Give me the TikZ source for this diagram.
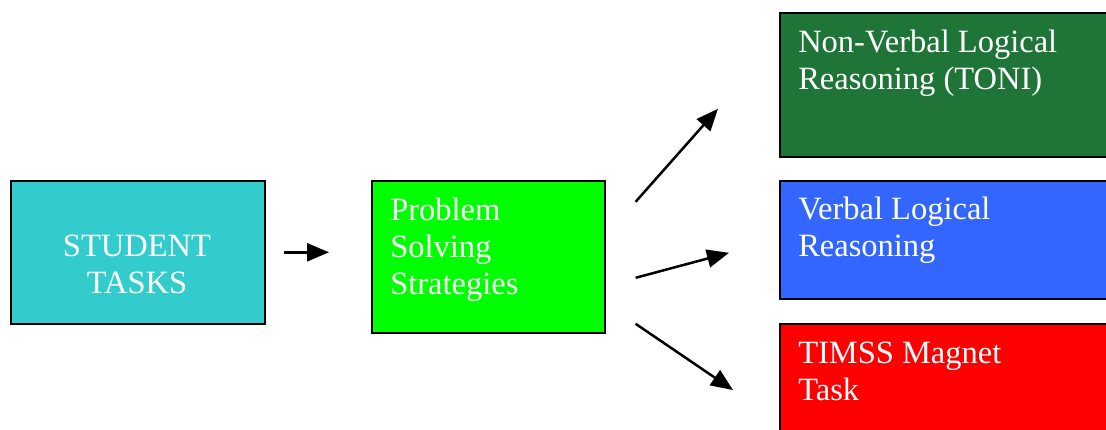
\documentclass[tikz,border=0pt]{standalone}
\usepackage{fontspec}
\setmainfont{Liberation Serif}
\usetikzlibrary{arrows.meta,positioning}

\definecolor{taskcyan}{HTML}{33CCCC}
\definecolor{stratgreen}{HTML}{00FF00}
\definecolor{tonigreen}{HTML}{1E7537}
\definecolor{verbalblue}{HTML}{3366FF}
\definecolor{timssred}{HTML}{FF0000}

\begin{document}
\begin{tikzpicture}[x=1pt,y=-1pt,>={Triangle[length=22pt,width=18pt]},line width=2.5pt,
                box node/.style={draw,rectangle,line width=1.6pt,anchor=north west,inner sep=0pt},
                text node/.style={text=white,align=left,anchor=north west,inner sep=0pt,
                  font=\fontsize{32.5}{37}\selectfont}]
                \useasboundingbox (0,0) rectangle (1106,430);
                \clip (0,0) rectangle (1106,430);
                \node[box node,fill=taskcyan,minimum width=254pt,minimum height=143pt] (0) at (10,180) {};
                \node[box node,fill=stratgreen,minimum width=233pt,minimum height=152pt] (1) at (371,180) {};
                \node[box node,fill=tonigreen,minimum width=350pt,minimum height=144pt] (2) at (779,12) {};
                \node[box node,fill=verbalblue,minimum width=350pt,minimum height=118pt] (3) at (779,180) {};
                \node[box node,fill=timssred,minimum width=350pt,minimum height=130pt] (4) at (779,323) {};

                \node[text node,align=center,anchor=north] at (137,234) {STUDENT\\TASKS};
                \node[text node] at (389,197) {Problem\\Solving\\Strategies};
                \node[text node] at (797,29) {Non-Verbal Logical\\Reasoning (TONI)};
                \node[text node] at (797,196) {Verbal Logical\\Reasoning};
                \node[text node] at (797,341) {TIMSS Magnet\\Task};

                \coordinate (s0) at ([xshift=18pt]0.east);
                \coordinate (e0) at ([xshift=-42pt,yshift=4.5pt]1.west);
                \coordinate (s2) at ([xshift=30pt,yshift=55pt]1.east);
                \coordinate (s3) at ([xshift=30pt,yshift=-21pt]1.east);
                \coordinate (s4) at ([xshift=30pt,yshift=-67pt]1.east);
                \coordinate (e2) at ([xshift=-61pt,yshift=-24pt]2.west);
                \coordinate (e3) at ([xshift=-50pt,yshift=-13pt]3.west);
                \coordinate (e4) at ([xshift=-46pt,yshift=-67pt]4.north west);

                \path[->]
                (s0) edge (e0)
                (s2) edge (e2)
                (s3) edge (e3)
                (s4) edge (e4)
                ;
\end{tikzpicture}
\end{document}
